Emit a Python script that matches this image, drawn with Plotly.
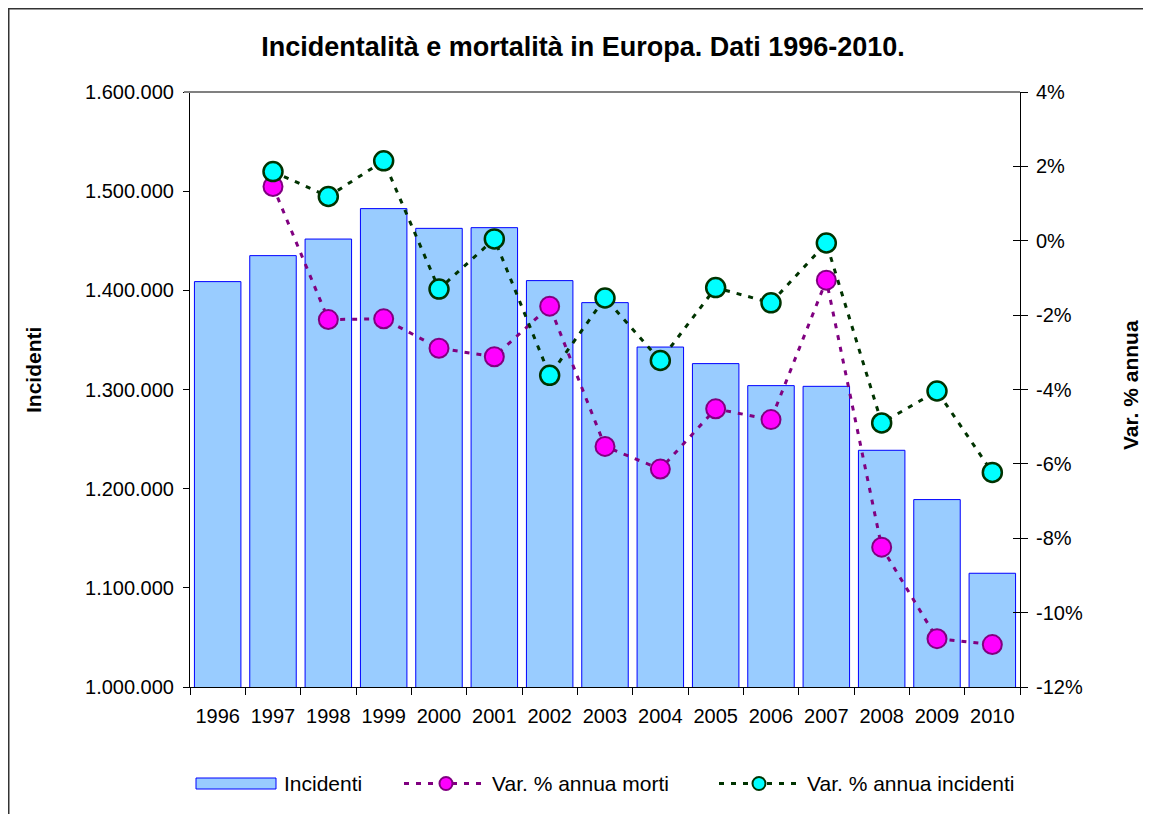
import plotly.graph_objects as go

# ---------------- data ----------------
years = ["1996", "1997", "1998", "1999", "2000", "2001", "2002", "2003",
         "2004", "2005", "2006", "2007", "2008", "2009", "2010"]
incidenti = [1408800, 1435000, 1451700, 1482400, 1462500, 1463200, 1409800, 1387600,
             1342800, 1326100, 1303900, 1303200, 1238700, 1189000, 1114700]
var_morti = [None, 1.46, -2.12, -2.10, -2.89, -3.12, -1.76, -5.53,
             -6.14, -4.52, -4.81, -1.06, -8.24, -10.70, -10.86]
var_incidenti = [None, 1.86, 1.19, 2.15, -1.30, 0.05, -3.62, -1.54,
                 -3.22, -1.26, -1.67, -0.06, -4.90, -4.04, -6.23]
left_tickvals = [1000000, 1100000, 1200000, 1300000, 1400000, 1500000, 1600000]
left_ticktext = ["1.000.000", "1.100.000", "1.200.000", "1.300.000",
                 "1.400.000", "1.500.000", "1.600.000"]
right_tickvals = [-12, -10, -8, -6, -4, -2, 0, 2, 4]
right_ticktext = ["-12%", "-10%", "-8%", "-6%", "-4%", "-2%", "0%", "2%", "4%"]

title_text = "Incidentalità e mortalità in Europa. Dati 1996-2010."
name_bar = "Incidenti"
name_morti = "Var. % annua morti"
name_inc = "Var. % annua incidenti"
left_title = "Incidenti"
right_title = "Var. % annua"

# ---------------- geometry (screen pixels; page has an 8px body margin) ----------------
OFF = 8
SW, SH = 1151, 814
W, H = SW - OFF, SH - OFF              # figure size
L, RGT, T, BOT = 190, 1020, 92, 687     # plot area in screen px
PW = RGT - L
PH = BOT - T
FONT = "Liberation Sans, Arial, sans-serif"

def px(x):
    return (x - L) / PW

def py(y):
    return (BOT - y) / PH

BAR_FILL = "#99CCFF"
BAR_LINE = "#0000FF"
MORTI_LINE = "#800080"
MORTI_FILL = "#FF00FF"
INC_LINE = "#003300"
INC_FILL = "#00FFFF"
DASH = "5px,7px"

fig = go.Figure()

fig.add_trace(go.Bar(
    x=years, y=incidenti, name=name_bar,
    marker=dict(color=BAR_FILL, line=dict(color=BAR_LINE, width=1)),
    yaxis="y", showlegend=False,
))
fig.add_trace(go.Scatter(
    x=years, y=var_morti, name=name_morti, yaxis="y2",
    mode="lines+markers",
    line=dict(color=MORTI_LINE, width=3, dash=DASH),
    marker=dict(size=19, color=MORTI_FILL, line=dict(color=MORTI_LINE, width=2)),
    showlegend=False,
))
fig.add_trace(go.Scatter(
    x=years, y=var_incidenti, name=name_inc, yaxis="y2",
    mode="lines+markers",
    line=dict(color=INC_LINE, width=3, dash=DASH),
    marker=dict(size=19, color=INC_FILL, line=dict(color=INC_LINE, width=2.5)),
    showlegend=False,
))
# empty trace so the inner-tick overlay axis is rendered
fig.add_trace(go.Scatter(x=[], y=[], yaxis="y3", showlegend=False, hoverinfo="skip"))

tickfont = dict(family=FONT, size=20, color="black")

fig.update_layout(
    width=W, height=H,
    margin=dict(l=L - OFF, r=W - (RGT - OFF), t=T - OFF, b=H - (BOT - OFF), pad=0,
                autoexpand=False),
    paper_bgcolor="white", plot_bgcolor="white",
    showlegend=False,
    bargap=0.16,
    font=dict(family=FONT, color="black"),
    title=dict(text=title_text, x=px(583), xref="paper", xanchor="center",
               y=1 - (47 - OFF) / H, yref="container", yanchor="middle",
               font=dict(family=FONT, size=27, color="black", weight="bold")),
    xaxis=dict(
        type="category", range=[-0.5, len(years) - 0.5],
        showline=True, linecolor="black", linewidth=1,
        ticks="outside", tickson="boundaries", ticklen=7, tickcolor="black",
        tickangle=0, tickfont=tickfont, ticklabelstandoff=11,
        showgrid=False, zeroline=False, mirror=False, automargin=False,
    ),
    yaxis=dict(
        range=[1000000, 1600000], tickvals=left_tickvals, ticktext=left_ticktext,
        showline=True, linecolor="black", linewidth=1,
        ticks="outside", ticklen=6, tickcolor="black", ticklabelstandoff=5,
        tickfont=tickfont, showgrid=False, zeroline=False, automargin=False,
    ),
    yaxis2=dict(
        range=[-12, 4], tickvals=right_tickvals, ticktext=right_ticktext,
        overlaying="y", side="right", anchor="x",
        showline=True, linecolor="black", linewidth=1,
        ticks="outside", ticklen=7, tickcolor="black", ticklabelstandoff=4,
        tickfont=tickfont, showgrid=False, zeroline=False, automargin=False,
    ),
    yaxis3=dict(
        range=[-12, 4], tickvals=right_tickvals,
        overlaying="y", side="right", anchor="x",
        showline=False, ticks="inside", ticklen=7, tickcolor="black",
        showticklabels=False, showgrid=False, zeroline=False,
    ),
)

shapes = []
# outer chart-area border: only top and left edges are inside the picture
shapes.append(dict(type="line", xref="paper", yref="paper",
                   x0=px(7.5), x1=px(1160), y0=py(8.5), y1=py(8.5),
                   line=dict(color="#333333", width=2)))
shapes.append(dict(type="line", xref="paper", yref="paper",
                   x0=px(8.5), x1=px(8.5), y0=py(7.5), y1=py(830),
                   line=dict(color="#333333", width=2)))
# plot-area top border (gray)
shapes.append(dict(type="line", xref="paper", yref="paper",
                   x0=px(184), x1=px(1020), y0=1, y1=1,
                   line=dict(color="#808080", width=2)))

# manual legend
LY = 783.5
shapes.append(dict(type="rect", xref="paper", yref="paper",
                   x0=px(196), x1=px(276), y0=py(778), y1=py(789),
                   line=dict(color=BAR_LINE, width=1), fillcolor=BAR_FILL))
for (x0, x1, xm, lc, fc) in [(404, 485, 446, MORTI_LINE, MORTI_FILL),
                             (719, 802, 759, INC_LINE, INC_FILL)]:
    shapes.append(dict(type="line", xref="paper", yref="paper",
                       x0=px(x0), x1=px(x1), y0=py(LY), y1=py(LY),
                       line=dict(color=lc, width=3, dash=DASH)))
    r = 6.5
    shapes.append(dict(type="circle", xref="paper", yref="paper",
                       x0=px(xm - r), x1=px(xm + r), y0=py(LY + r), y1=py(LY - r),
                       line=dict(color=lc, width=2), fillcolor=fc))
fig.update_layout(shapes=shapes)

legfont = dict(family=FONT, size=21, color="black")
annotations = [
    dict(text=name_bar, x=px(282), y=py(LY), xref="paper", yref="paper",
         xanchor="left", yanchor="middle", showarrow=False, font=legfont),
    dict(text=name_morti, x=px(490), y=py(LY), xref="paper", yref="paper",
         xanchor="left", yanchor="middle", showarrow=False, font=legfont),
    dict(text=name_inc, x=px(805), y=py(LY), xref="paper", yref="paper",
         xanchor="left", yanchor="middle", showarrow=False, font=legfont),
    dict(text="<b>" + left_title + "</b>", x=px(33), y=py(370), xref="paper", yref="paper",
         xanchor="center", yanchor="middle", textangle=-90, showarrow=False,
         font=dict(family=FONT, size=21, color="black")),
    dict(text="<b>" + right_title + "</b>", x=px(1130), y=py(385), xref="paper", yref="paper",
         xanchor="center", yanchor="middle", textangle=-90, showarrow=False,
         font=dict(family=FONT, size=21, color="black")),
]
fig.update_layout(annotations=annotations)

fig.write_html("out.html")
